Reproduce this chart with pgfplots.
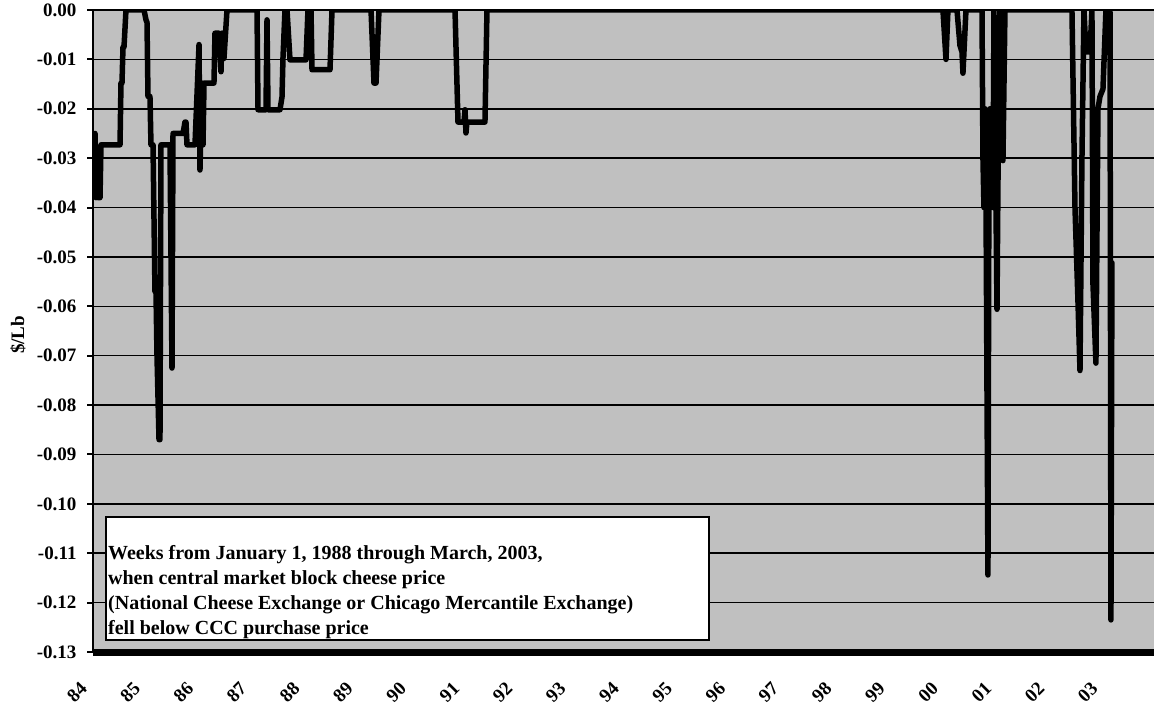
\documentclass[border=0pt]{standalone}
\usepackage{fontspec}
\setmainfont{Liberation Serif}
\usepackage{pgfplots}
\pgfplotsset{compat=1.18}
\definecolor{plotgray}{RGB}{192,192,192}

\begin{document}
\begin{tikzpicture}
\begin{axis}[
    scale only axis,
    width=1061pt, height=642pt,
    xmin=1984, xmax=2003.944,
    ymin=-0.13, ymax=0,
    axis background/.style={fill=plotgray},
    axis lines=left,
    axis line style={-},
    x axis line style={line width=7pt},
    y axis line style={line width=2pt},
    ytick={-0.13,-0.12,-0.11,-0.10,-0.09,-0.08,-0.07,-0.06,-0.05,-0.04,-0.03,-0.02,-0.01,0},
    yticklabels={-0.13,-0.12,-0.11,-0.10,-0.09,-0.08,-0.07,-0.06,-0.05,-0.04,-0.03,-0.02,-0.01,0.00},
    xtick={1984,1985,1986,1987,1988,1989,1990,1991,1992,1993,1994,1995,1996,1997,1998,1999,2000,2001,2002,2003},
    xticklabels={84,85,86,87,88,89,90,91,92,93,94,95,96,97,98,99,00,01,02,03},
    tick align=outside,
    major tick length=6pt,
    ytick style={black, line width=2pt},
    xtick style={draw=none},
    ymajorgrids,
    major grid style={black, line width=1.6pt},
    tick label style={font=\bfseries\fontsize{19}{21}\selectfont},
    yticklabel style={xshift=-7pt},
    xticklabel style={anchor=center, xshift=-16pt, yshift=-34pt, rotate=45},
    ylabel={\$/Lb},
    ylabel style={font=\bfseries\fontsize{19}{21}\selectfont, at={(axis description cs:-0.0707,0.494)}, anchor=center},
]
% weekly price gap (block cheese price minus CCC purchase price), $/lb
\addplot[black, line width=5.5pt, line join=round, line cap=round] coordinates {
(1984.038,-0.025) (1984.056,-0.038) (1984.075,-0.028) (1984.094,-0.038) (1984.132,-0.038)
(1984.150,-0.0273) (1984.508,-0.0273) (1984.526,-0.0148) (1984.545,-0.0148) (1984.564,-0.0075)
(1984.583,-0.0075) (1984.620,0) (1984.959,0) (1984.996,-0.002) (1985.015,-0.0025)
(1985.034,-0.0175) (1985.071,-0.0175) (1985.090,-0.0273) (1985.128,-0.0273) (1985.165,-0.057)
(1985.184,-0.057) (1985.203,-0.070) (1985.241,-0.087) (1985.259,-0.087) (1985.278,-0.0273)
(1985.447,-0.0273) (1985.485,-0.0725) (1985.504,-0.025) (1985.692,-0.025) (1985.729,-0.0227)
(1985.748,-0.0227) (1985.767,-0.0273) (1985.917,-0.0273) (1985.993,-0.007) (1986.011,-0.0324)
(1986.049,-0.0148) (1986.068,-0.0273) (1986.087,-0.0148) (1986.274,-0.0148) (1986.293,-0.0047)
(1986.368,-0.0047) (1986.406,-0.0125) (1986.425,-0.0047) (1986.462,-0.0098) (1986.519,0)
(1987.083,0) (1987.102,-0.0202) (1987.252,-0.0202) (1987.271,-0.002) (1987.290,-0.0202)
(1987.515,-0.0202) (1987.553,-0.0176) (1987.571,-0.0098) (1987.609,0) (1987.647,0)
(1987.703,-0.0101) (1988.004,-0.0101) (1988.041,0) (1988.060,-0.005) (1988.079,-0.002)
(1988.098,0) (1988.117,-0.0121) (1988.455,-0.0121) (1988.493,0) (1989.226,0)
(1989.282,-0.0148) (1989.320,-0.0148) (1989.376,0) (1990.805,0) (1990.861,-0.0227)
(1990.974,-0.0227) (1990.993,-0.0202) (1991.011,-0.0249) (1991.030,-0.0227) (1991.368,-0.0227)
(1991.406,0) (1999.977,0) (2000.034,-0.0100) (2000.071,0) (2000.241,0)
(2000.297,-0.0072) (2000.335,-0.0085) (2000.353,-0.0128) (2000.410,0) (2000.711,0)
(2000.729,-0.030) (2000.748,-0.040) (2000.767,-0.020) (2000.786,-0.038) (2000.823,-0.1144)
(2000.842,-0.030) (2000.861,-0.020) (2000.880,-0.040) (2000.898,-0.020) (2000.917,-0.040)
(2000.936,0) (2000.955,-0.035) (2000.974,-0.040) (2000.993,-0.0606) (2001.011,-0.035)
(2001.030,-0.020) (2001.049,0) (2001.068,-0.030) (2001.086,0) (2001.105,-0.0305)
(2001.143,0) (2002.402,0) (2002.459,-0.040) (2002.515,-0.059) (2002.553,-0.073)
(2002.590,-0.030) (2002.628,0) (2002.665,-0.0085) (2002.741,-0.0085) (2002.778,0)
(2002.797,-0.0555) (2002.853,-0.0715) (2002.891,-0.020) (2002.929,-0.0175) (2002.985,-0.016)
(2003.041,0) (2003.117,0) (2003.135,-0.1235) (2003.154,-0.0512)
};
\draw[fill=white, line width=2pt] (axis description cs:0.01225,0.0187) rectangle (axis description cs:0.5806,0.2103);
\node[anchor=north west, inner sep=0pt, align=left, font=\bfseries\fontsize{20}{25}\selectfont]
  at (axis description cs:0.0141,0.167)
  {Weeks from January 1, 1988 through March, 2003,\\
   when central market block cheese price\\
   (National Cheese Exchange or Chicago Mercantile Exchange)\\
   fell below CCC purchase price};
\end{axis}
\pgfresetboundingbox
\path[use as bounding box] (-93pt,-52pt) rectangle (1061pt,652pt);
\end{tikzpicture}
\end{document}
